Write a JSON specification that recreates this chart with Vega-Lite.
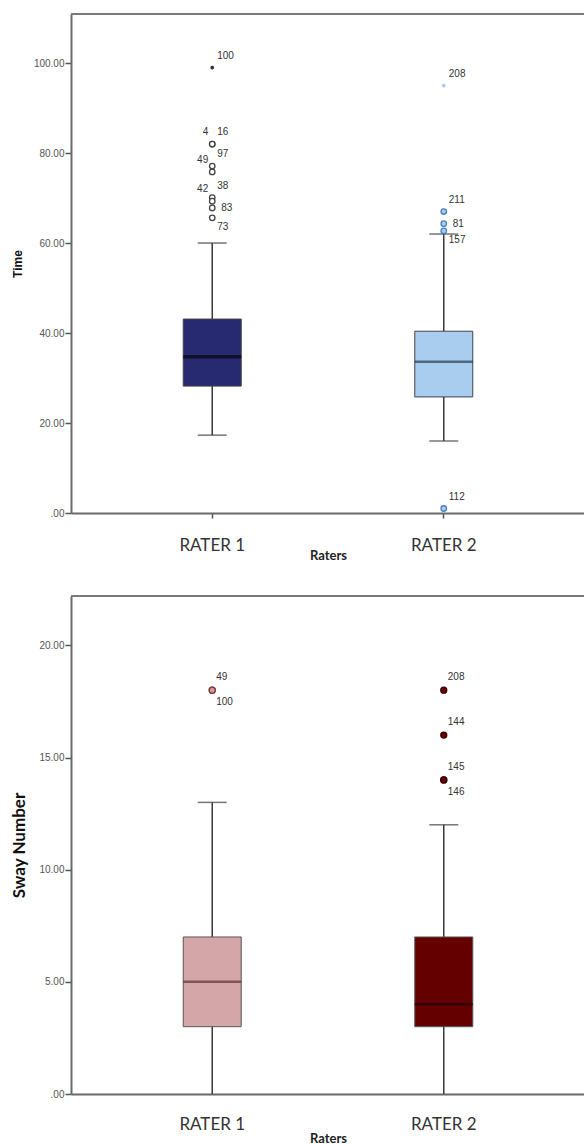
{
  "$schema": "https://vega.github.io/schema/vega-lite/v6.json",
  "padding": {"left": 10, "top": 13, "right": 0, "bottom": 0},
  "background": "white",
  "spacing": 33,
  "datasets": {
    "time_box": [
      {"rater": "RATER 1", "lower": 17.3, "q1": 28.2, "median": 34.7, "q3": 43.1, "upper": 60},
      {"rater": "RATER 2", "lower": 16, "q1": 25.8, "median": 33.6, "q3": 40.4, "upper": 62}
    ],
    "time_out": [
      {"rater": "RATER 1", "id": "100", "value": 99, "kind": "extreme", "pos": "ur"},
      {"rater": "RATER 1", "id": "4", "value": 82, "kind": "outlier", "pos": "ul"},
      {"rater": "RATER 1", "id": "16", "value": 82, "kind": "outlier", "pos": "ur"},
      {"rater": "RATER 1", "id": "97", "value": 77.1, "kind": "outlier", "pos": "ur"},
      {"rater": "RATER 1", "id": "49", "value": 75.8, "kind": "outlier", "pos": "ul"},
      {"rater": "RATER 1", "id": "38", "value": 70.1, "kind": "outlier", "pos": "ur"},
      {"rater": "RATER 1", "id": "42", "value": 69.3, "kind": "outlier", "pos": "ul"},
      {"rater": "RATER 1", "id": "83", "value": 67.8, "kind": "outlier", "pos": "r"},
      {"rater": "RATER 1", "id": "73", "value": 65.6, "kind": "outlier", "pos": "lr"},
      {"rater": "RATER 2", "id": "208", "value": 95, "kind": "extreme", "pos": "ur"},
      {"rater": "RATER 2", "id": "211", "value": 67, "kind": "outlier", "pos": "ur"},
      {"rater": "RATER 2", "id": "81", "value": 64.3, "kind": "outlier", "pos": "r"},
      {"rater": "RATER 2", "id": "157", "value": 62.7, "kind": "outlier", "pos": "lr"},
      {"rater": "RATER 2", "id": "112", "value": 1, "kind": "outlier", "pos": "ur"}
    ],
    "sway_box": [
      {"rater": "RATER 1", "lower": 0, "q1": 3, "median": 5, "q3": 7, "upper": 13},
      {"rater": "RATER 2", "lower": 0, "q1": 3, "median": 4, "q3": 7, "upper": 12}
    ],
    "sway_out": [
      {"rater": "RATER 1", "id": "49", "value": 18, "kind": "outlier", "pos": "ur"},
      {"rater": "RATER 1", "id": "100", "value": 18, "kind": "outlier", "pos": "lr"},
      {"rater": "RATER 2", "id": "208", "value": 18, "kind": "outlier", "pos": "ur"},
      {"rater": "RATER 2", "id": "144", "value": 16, "kind": "outlier", "pos": "ur"},
      {"rater": "RATER 2", "id": "145", "value": 14, "kind": "outlier", "pos": "ur"},
      {"rater": "RATER 2", "id": "146", "value": 14, "kind": "outlier", "pos": "lr"}
    ],
    "one": [{"k": 1}]
  },
  "vconcat": [
    {
      "width": 514,
      "height": 499,
      "layer": [
        {
          "data": {"name": "one"},
          "mark": {"type": "rule", "color": "#7a7a7a", "strokeWidth": 2},
          "encoding": {"y": {"datum": 110.9, "type": "quantitative"}}
        },
        {
          "data": {"name": "time_box"},
          "mark": {"type": "rule", "color": "#3a3a3a", "strokeWidth": 1.5},
          "encoding": {
            "x": {"field": "rater", "type": "nominal", "scale": {"type": "band", "domain": ["RATER 1", "RATER 2"], "paddingInner": 0, "paddingOuter": 0.11},
              "axis": {"labelAngle": 0, "labelFont": "Lato", "labelFontSize": 17, "labelColor": "#333", "labelPadding": 19, "tickSize": 5, "tickColor": "#555", "tickWidth": 1.5, "domainColor": "#6a6a6a", "domainWidth": 2, "titleFont": "Lato", "titleFontSize": 13, "titleFontWeight": "bold", "titleColor": "#222", "titlePadding": -4},
              "title": "Raters"},
            "y": {"field": "lower", "type": "quantitative", "scale": {"domain": [0, 110.9], "nice": false, "zero": true},
              "axis": {"values": [0, 20, 40, 60, 80, 100], "labelExpr": "datum.value == 0 ? '.00' : format(datum.value, '.2f')", "labelFont": "Liberation Sans", "labelFontSize": 10, "labelColor": "#555", "labelPadding": 1, "tickSize": 6, "tickColor": "#555", "tickWidth": 1.5, "domainColor": "#6a6a6a", "domainWidth": 2, "grid": false, "minExtent": 40, "maxExtent": 40, "titleFont": "Liberation Sans", "titleFontSize": 12, "titleFontWeight": "bold", "titleColor": "#111", "titlePadding": 7},
              "title": "Time"},
            "y2": {"field": "upper"}
          }
        },
        {
          "data": {"name": "time_box"},
          "mark": {"type": "tick", "color": "#3a3a3a", "size": 29, "thickness": 1.5},
          "encoding": {"x": {"field": "rater", "type": "nominal"}, "y": {"field": "lower", "type": "quantitative"}}
        },
        {
          "data": {"name": "time_box"},
          "mark": {"type": "tick", "color": "#3a3a3a", "size": 29, "thickness": 1.5},
          "encoding": {"x": {"field": "rater", "type": "nominal"}, "y": {"field": "upper", "type": "quantitative"}}
        },
        {
          "data": {"name": "time_box"},
          "mark": {"type": "bar", "size": 58, "stroke": "#444", "strokeWidth": 1},
          "encoding": {
            "x": {"field": "rater", "type": "nominal"},
            "y": {"field": "q1", "type": "quantitative"},
            "y2": {"field": "q3"},
            "fill": {"condition": {"test": "datum.rater == 'RATER 1'", "value": "#272a70"}, "value": "#a9cdef"}
          }
        },
        {
          "data": {"name": "time_box"},
          "transform": [{"filter": "datum.rater == 'RATER 1'"}],
          "mark": {"type": "tick", "size": 58, "thickness": 3.5, "color": "#050510"},
          "encoding": {
            "x": {"field": "rater", "type": "nominal"},
            "y": {"field": "median", "type": "quantitative"}
          }
        },
        {
          "data": {"name": "time_box"},
          "transform": [{"filter": "datum.rater == 'RATER 2'"}],
          "mark": {"type": "tick", "size": 58, "thickness": 2.5, "color": "#2c3c55"},
          "encoding": {
            "x": {"field": "rater", "type": "nominal"},
            "y": {"field": "median", "type": "quantitative"}
          }
        },
        {
          "data": {"name": "time_out"},
          "transform": [{"filter": "datum.kind == 'outlier'"}],
          "mark": {"type": "point", "shape": "circle", "size": 30, "strokeWidth": 1.3, "filled": false, "opacity": 1},
          "encoding": {
            "x": {"field": "rater", "type": "nominal"},
            "y": {"field": "value", "type": "quantitative"},
            "stroke": {"condition": {"test": "datum.rater == 'RATER 1'", "value": "#444"}, "value": "#4a80c0"},
            "fill": {"condition": {"test": "datum.rater == 'RATER 1'", "value": "white"}, "value": "#a9cdef"},
            "fillOpacity": {"value": 1}
          }
        },
        {
          "data": {"name": "time_out"},
          "transform": [{"filter": "datum.kind == 'extreme'"}],
          "mark": {"type": "point", "shape": "M0,-1L0,1M-0.866,-0.5L0.866,0.5M-0.866,0.5L0.866,-0.5", "size": 14, "strokeWidth": 1.5, "filled": false, "opacity": 1},
          "encoding": {
            "x": {"field": "rater", "type": "nominal"},
            "y": {"field": "value", "type": "quantitative"},
            "stroke": {"condition": {"test": "datum.rater == 'RATER 1'", "value": "#333"}, "value": "#a9cdef"}
          }
        },
        {
          "data": {"name": "time_out"},
          "transform": [{"filter": "datum.pos == 'ur'"}],
          "mark": {"type": "text", "align": "left", "baseline": "middle", "dx": 5, "dy": -12, "font": "Liberation Sans", "fontSize": 10, "color": "#333"},
          "encoding": {"x": {"field": "rater", "type": "nominal"}, "y": {"field": "value", "type": "quantitative"}, "text": {"field": "id"}}
        },
        {
          "data": {"name": "time_out"},
          "transform": [{"filter": "datum.pos == 'ul'"}],
          "mark": {"type": "text", "align": "right", "baseline": "middle", "dx": -4, "dy": -12, "font": "Liberation Sans", "fontSize": 10, "color": "#333"},
          "encoding": {"x": {"field": "rater", "type": "nominal"}, "y": {"field": "value", "type": "quantitative"}, "text": {"field": "id"}}
        },
        {
          "data": {"name": "time_out"},
          "transform": [{"filter": "datum.pos == 'r'"}],
          "mark": {"type": "text", "align": "left", "baseline": "middle", "dx": 9, "dy": 0, "font": "Liberation Sans", "fontSize": 10, "color": "#333"},
          "encoding": {"x": {"field": "rater", "type": "nominal"}, "y": {"field": "value", "type": "quantitative"}, "text": {"field": "id"}}
        },
        {
          "data": {"name": "time_out"},
          "transform": [{"filter": "datum.pos == 'lr'"}],
          "mark": {"type": "text", "align": "left", "baseline": "middle", "dx": 5, "dy": 9, "font": "Liberation Sans", "fontSize": 10, "color": "#333"},
          "encoding": {"x": {"field": "rater", "type": "nominal"}, "y": {"field": "value", "type": "quantitative"}, "text": {"field": "id"}}
        }
      ]
    },
    {
      "width": 514,
      "height": 498,
      "layer": [
        {
          "data": {"name": "one"},
          "mark": {"type": "rule", "color": "#7a7a7a", "strokeWidth": 2},
          "encoding": {"y": {"datum": 22.2, "type": "quantitative"}}
        },
        {
          "data": {"name": "sway_box"},
          "mark": {"type": "rule", "color": "#3a3a3a", "strokeWidth": 1.5},
          "encoding": {
            "x": {"field": "rater", "type": "nominal", "scale": {"type": "band", "domain": ["RATER 1", "RATER 2"], "paddingInner": 0, "paddingOuter": 0.11},
              "axis": {"labelAngle": 0, "labelFont": "Lato", "labelFontSize": 17, "labelColor": "#333", "labelPadding": 22, "tickSize": 0, "domainColor": "#6a6a6a", "domainWidth": 2, "titleFont": "Lato", "titleFontSize": 13, "titleFontWeight": "bold", "titleColor": "#222", "titlePadding": 0},
              "title": "Raters"},
            "y": {"field": "lower", "type": "quantitative", "scale": {"domain": [0, 22.2], "nice": false, "zero": true},
              "axis": {"values": [0, 5, 10, 15, 20], "labelExpr": "datum.value == 0 ? '.00' : format(datum.value, '.2f')", "labelFont": "Liberation Sans", "labelFontSize": 10, "labelColor": "#555", "labelPadding": 1, "tickSize": 6, "tickColor": "#555", "tickWidth": 1.5, "domainColor": "#6a6a6a", "domainWidth": 2, "grid": false, "minExtent": 40, "maxExtent": 40, "titleFont": "Lato", "titleFontSize": 17, "titleFontWeight": "bold", "titleColor": "#111", "titlePadding": 3},
              "title": "Sway Number"},
            "y2": {"field": "upper"}
          }
        },
        {
          "data": {"name": "sway_box"},
          "mark": {"type": "tick", "color": "#3a3a3a", "size": 29, "thickness": 1.5},
          "encoding": {"x": {"field": "rater", "type": "nominal"}, "y": {"field": "upper", "type": "quantitative"}}
        },
        {
          "data": {"name": "sway_box"},
          "mark": {"type": "bar", "size": 58, "stroke": "#555", "strokeWidth": 1},
          "encoding": {
            "x": {"field": "rater", "type": "nominal"},
            "y": {"field": "q1", "type": "quantitative"},
            "y2": {"field": "q3"},
            "fill": {"condition": {"test": "datum.rater == 'RATER 1'", "value": "#d4a6a7"}, "value": "#640000"}
          }
        },
        {
          "data": {"name": "sway_box"},
          "mark": {"type": "tick", "size": 58, "thickness": 2.5},
          "encoding": {
            "x": {"field": "rater", "type": "nominal"},
            "y": {"field": "median", "type": "quantitative"},
            "color": {"condition": {"test": "datum.rater == 'RATER 1'", "value": "#5a3535"}, "value": "#1a0000"}
          }
        },
        {
          "data": {"name": "sway_out"},
          "mark": {"type": "point", "shape": "circle", "size": 36, "strokeWidth": 1.3, "filled": true, "opacity": 1},
          "encoding": {
            "x": {"field": "rater", "type": "nominal"},
            "y": {"field": "value", "type": "quantitative"},
            "stroke": {"condition": {"test": "datum.rater == 'RATER 1'", "value": "#7a3a3a"}, "value": "#3a0000"},
            "fill": {"condition": {"test": "datum.rater == 'RATER 1'", "value": "#d99a9a"}, "value": "#6b0000"}
          }
        },
        {
          "data": {"name": "sway_out"},
          "transform": [{"filter": "datum.pos == 'ur'"}],
          "mark": {"type": "text", "align": "left", "baseline": "middle", "dx": 4, "dy": -13, "font": "Liberation Sans", "fontSize": 10, "color": "#333"},
          "encoding": {"x": {"field": "rater", "type": "nominal"}, "y": {"field": "value", "type": "quantitative"}, "text": {"field": "id"}}
        },
        {
          "data": {"name": "sway_out"},
          "transform": [{"filter": "datum.pos == 'lr'"}],
          "mark": {"type": "text", "align": "left", "baseline": "middle", "dx": 4, "dy": 12, "font": "Liberation Sans", "fontSize": 10, "color": "#333"},
          "encoding": {"x": {"field": "rater", "type": "nominal"}, "y": {"field": "value", "type": "quantitative"}, "text": {"field": "id"}}
        }
      ]
    }
  ],
  "config": {"view": {"stroke": null}}
}
